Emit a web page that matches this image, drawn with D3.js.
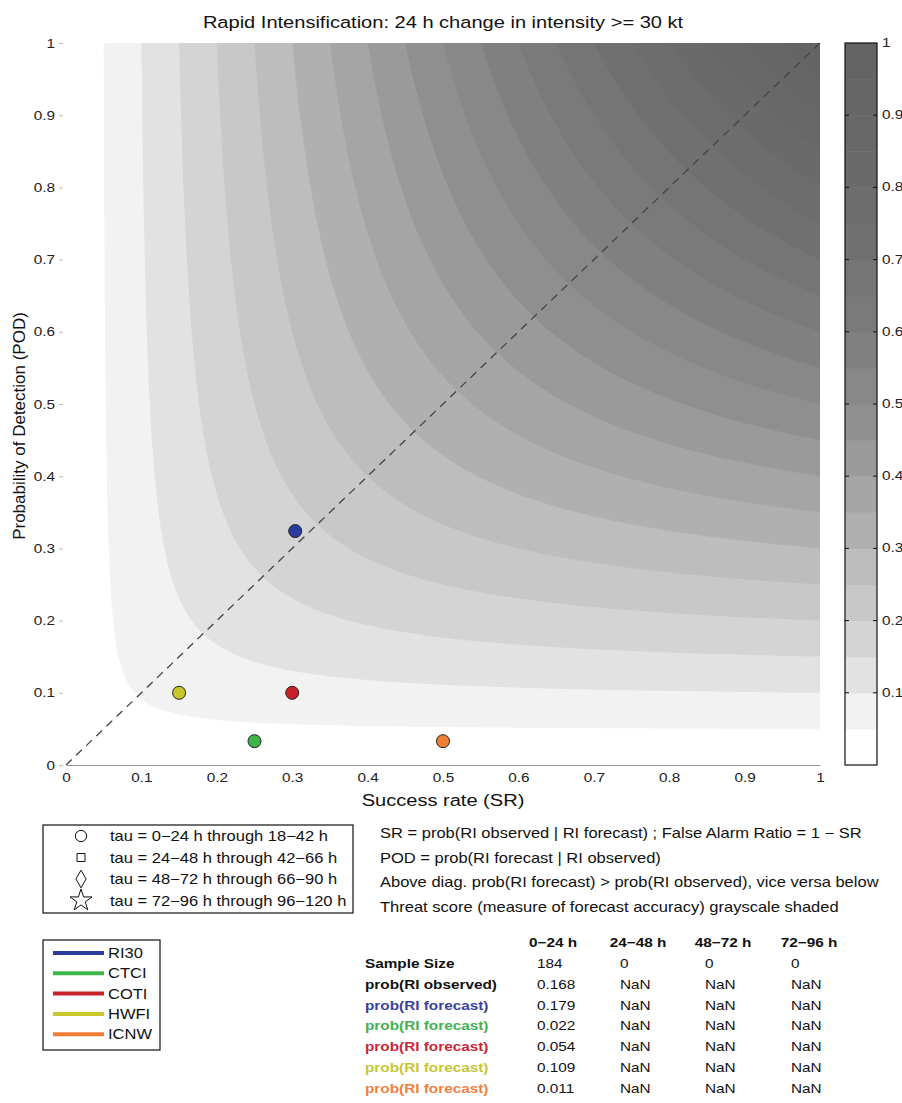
<!DOCTYPE html>
<html>
<head>
<meta charset="utf-8">
<script src="https://cdn.jsdelivr.net/npm/d3@7"></script>
<style>
  body { margin: 0; background: #fff; }
  svg { font-family: "Liberation Sans", Arial, sans-serif; display: block; }
</style>
</head>
<body>
<svg id="chart" width="902" height="1103"></svg>
<script>
// threat-score shading levels (0.05 steps), colorbar ticks, axis ticks
const levels = d3.range(1, 20).map(k => k * 0.05);
const axisTicks = [0, 0.1, 0.2, 0.3, 0.4, 0.5, 0.6, 0.7, 0.8, 0.9, 1];
const cbarTicks = [0.1, 0.2, 0.3, 0.4, 0.5, 0.6, 0.7, 0.8, 0.9, 1];

// models: success rate and POD for 0-24 h
const models = ['RI30', 'CTCI', 'COTI', 'HWFI', 'ICNW'];
const modelColors = ['#2b3c9f', '#3db54a', '#c9212b', '#c9c62c', '#f07d36'];
const successRate = [0.304, 0.25, 0.30, 0.15, 0.50];
const pod = [0.324, 0.033, 0.10, 0.10, 0.033];

const tauLabels = [
  'tau = 0\u221224 h through 18\u221242 h',
  'tau = 24\u221248 h through 42\u221266 h',
  'tau = 48\u221272 h through 66\u221290 h',
  'tau = 72\u221296 h through 96\u2212120 h'
];
const tauShapes = ['circle', 'square', 'diamond', 'star'];

const notes = [
  'SR = prob(RI observed | RI forecast) ; False Alarm Ratio = 1 \u2212 SR',
  'POD = prob(RI forecast | RI observed)',
  'Above diag. prob(RI forecast) > prob(RI observed), vice versa below',
  'Threat score (measure of forecast accuracy) grayscale shaded'
];

const tableHeaders = ['0\u221224 h', '24\u221248 h', '48\u221272 h', '72\u221296 h'];
const rowLabels = ['Sample Size', 'prob(RI observed)', 'prob(RI forecast)', 'prob(RI forecast)',
  'prob(RI forecast)', 'prob(RI forecast)', 'prob(RI forecast)'];
const rowColors = ['#111', '#111', '#3b3f9c', '#45b04f', '#c8283a', '#c6c634', '#f08040'];
const tableValues = [
  ['184', '0', '0', '0'],
  ['0.168', 'NaN', 'NaN', 'NaN'],
  ['0.179', 'NaN', 'NaN', 'NaN'],
  ['0.022', 'NaN', 'NaN', 'NaN'],
  ['0.054', 'NaN', 'NaN', 'NaN'],
  ['0.109', 'NaN', 'NaN', 'NaN'],
  ['0.011', 'NaN', 'NaN', 'NaN']
];

// grey ramp: lower edge of each band -> grey level (darkens fast, then flattens)
const rampStops = [0.05, 0.10, 0.15, 0.20, 0.25, 0.30, 0.35, 0.40, 0.45, 0.50,
  0.55, 0.60, 0.65, 0.70, 0.75, 0.80, 0.85, 0.90, 0.95];
const rampGrey = [242, 226, 212, 200, 189, 176, 165, 154, 143, 136,
  128, 122, 117, 112, 109, 106, 104, 102, 100];

const SX = 1.18; // the original's lettering is drawn wider than tall

const svg = d3.select('#chart');
const x = d3.scaleLinear().domain([0, 1]).range([66, 820]);
const y = d3.scaleLinear().domain([0, 1]).range([765, 43]);
const gray = d3.scaleLinear().domain(rampStops).range(rampGrey.map(g => d3.rgb(g, g, g)));

function label(g, px, py, s, o = {}) {
  return g.append('text')
    .attr('transform', `translate(${px},${py}) scale(${SX},1)`)
    .attr('text-anchor', o.anchor || 'start')
    .attr('font-size', o.size || 13)
    .attr('font-weight', o.weight || 'normal')
    .attr('fill', o.fill || '#111')
    .text(s);
}

// threat score field: CSI = 1 / (1/SR + 1/POD - 1)
const n = 300;
const field = new Float64Array(n * n);
for (let j = 0; j < n; j++) {
  for (let i = 0; i < n; i++) {
    const sr = (i + 0.5) / n, pd = (j + 0.5) / n;
    field[j * n + i] = 1 / (1 / sr + 1 / pd - 1);
  }
}
const contours = d3.contours().size([n, n]).thresholds(levels)(field);
const proj = d3.geoTransform({
  point(px, py) { this.stream.point(x(px / n), y(py / n)); }
});
const path = d3.geoPath(proj);

svg.append('defs').append('clipPath').attr('id', 'plotClip')
  .append('rect').attr('x', x(0)).attr('y', y(1)).attr('width', x(1) - x(0)).attr('height', y(0) - y(1));

svg.append('g').attr('clip-path', 'url(#plotClip)')
  .selectAll('path').data(contours).join('path')
  .attr('d', path)
  .attr('fill', d => gray(d.value))
  .attr('stroke', 'none');

// diagonal
svg.append('line')
  .attr('x1', x(0)).attr('y1', y(0)).attr('x2', x(1)).attr('y2', y(1))
  .attr('stroke', '#444').attr('stroke-width', 1.3).attr('stroke-dasharray', '8,6');

// axes
const xAxis = svg.append('g').attr('transform', `translate(0,${y(0)})`)
  .call(d3.axisBottom(x).tickValues(axisTicks).tickFormat(d3.format('')).tickSize(0).tickPadding(8));
xAxis.select('.domain').attr('stroke', '#999');
xAxis.selectAll('text').attr('font-size', 13).attr('fill', '#222').attr('transform', `scale(${SX},1)`);

const yAxis = svg.append('g').attr('transform', `translate(${x(0) - 3},0)`)
  .call(d3.axisLeft(y).tickValues(axisTicks).tickFormat(d3.format('')).tickSize(4).tickPadding(4));
yAxis.select('.domain').remove();
yAxis.selectAll('line').attr('stroke', '#bbb');
yAxis.selectAll('text').attr('font-size', 13).attr('fill', '#222')
  .attr('x', -8 / SX).attr('transform', `scale(${SX},1)`);

label(svg, 443, 28, 'Rapid Intensification: 24 h change in intensity >= 30 kt', { size: 17, anchor: 'middle' });
label(svg, 443, 806, 'Success rate (SR)', { size: 17, anchor: 'middle' });
svg.append('text').attr('transform', `translate(25,426) rotate(-90)`)
  .attr('text-anchor', 'middle').attr('font-size', 17).attr('fill', '#111')
  .text('Probability of Detection (POD)');

// points
svg.append('g').selectAll('circle').data(models).join('circle')
  .attr('cx', (d, i) => x(successRate[i]))
  .attr('cy', (d, i) => y(pod[i]))
  .attr('r', 6.5)
  .attr('fill', (d, i) => modelColors[i])
  .attr('stroke', '#222').attr('stroke-width', 1);

// colorbar
const cb = { x: 845, w: 32 };
const cbG = svg.append('g');
const bands = [0, ...levels];
cbG.selectAll('rect.band').data(bands).join('rect').attr('class', 'band')
  .attr('x', cb.x).attr('width', cb.w)
  .attr('y', d => y(Math.min(1, d + 0.05)))
  .attr('height', d => y(d) - y(Math.min(1, d + 0.05)) + 0.5)
  .attr('fill', d => d === 0 ? '#ffffff' : gray(d));
cbG.append('rect').attr('x', cb.x).attr('y', y(1)).attr('width', cb.w).attr('height', y(0) - y(1))
  .attr('fill', 'none').attr('stroke', '#111').attr('stroke-width', 1.2);
cbG.selectAll('line.tl').data(cbarTicks.filter(t => t < 1)).join('line').attr('class', 'tl')
  .attr('x1', cb.x).attr('x2', cb.x + 4).attr('y1', d => y(d)).attr('y2', d => y(d))
  .attr('stroke', '#111');
cbG.selectAll('line.tr').data(cbarTicks.filter(t => t < 1)).join('line').attr('class', 'tr')
  .attr('x1', cb.x + cb.w - 4).attr('x2', cb.x + cb.w).attr('y1', d => y(d)).attr('y2', d => y(d))
  .attr('stroke', '#111');
cbarTicks.forEach(t => label(cbG, cb.x + cb.w + 5, y(t) + 4, d3.format('')(t), { size: 13, fill: '#222' }));

// tau legend
const tl = svg.append('g');
tl.append('rect').attr('x', 43).attr('y', 825).attr('width', 310).attr('height', 88)
  .attr('fill', '#fff').attr('stroke', '#111').attr('stroke-width', 1.2);
const sym = { circle: d3.symbolCircle, square: d3.symbolSquare, diamond: d3.symbolDiamond, star: d3.symbolStar };
const symSize = { circle: 100, square: 64, diamond: 90, star: 150 };
tauLabels.forEach((t, i) => {
  const yy = 836 + i * 21.5;
  tl.append('path').attr('transform', `translate(81,${yy})`)
    .attr('d', d3.symbol(sym[tauShapes[i]], symSize[tauShapes[i]])())
    .attr('fill', 'none').attr('stroke', '#111').attr('stroke-width', 1);
  label(tl, 110, yy + 5, t, { size: 14 });
});

// notes
notes.forEach((t, i) => label(svg, 380, 838 + i * 24.5, t, { size: 14 }));

// model legend
const ml = svg.append('g');
ml.append('rect').attr('x', 43).attr('y', 940).attr('width', 117).attr('height', 110)
  .attr('fill', '#fff').attr('stroke', '#111').attr('stroke-width', 1.2);
models.forEach((m, i) => {
  const yy = 953 + i * 20.3;
  ml.append('line').attr('x1', 53).attr('x2', 104).attr('y1', yy).attr('y2', yy)
    .attr('stroke', modelColors[i]).attr('stroke-width', 4);
  label(ml, 108, yy + 5, m, { size: 14 });
});

// table
const colCenters = [553, 638, 723, 809];
const colLeft = [537, 620, 705, 791];
const tb = svg.append('g');
tableHeaders.forEach((h, c) => label(tb, colCenters[c], 947, h, { size: 13, weight: 'bold', anchor: 'middle' }));
rowLabels.forEach((r, i) => {
  const yy = 968 + i * 20.8;
  label(tb, 365, yy, r, { size: 13, weight: 'bold', fill: rowColors[i] });
  tableValues[i].forEach((v, c) => label(tb, colLeft[c], yy, v, { size: 13 }));
});
</script>
</body>
</html>
